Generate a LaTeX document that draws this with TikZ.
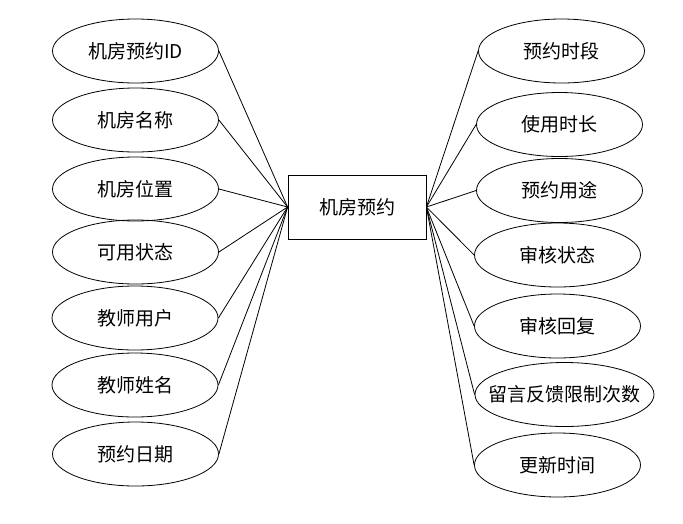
\documentclass[tikz,border=0pt]{standalone}
\usepackage{fontspec}
\setmainfont{Noto Sans CJK SC}
\usetikzlibrary{shapes.geometric}
\begin{document}
\begin{tikzpicture}[x=1pt,y=-1pt,
  attr/.style={draw, ellipse, line width=0.8pt, minimum width=166pt, minimum height=64pt, inner sep=0pt, font=\fontsize{19}{21}\selectfont},
  ent/.style={draw, rectangle, line width=0.8pt, minimum width=138pt, minimum height=64pt, inner sep=0pt, font=\fontsize{19}{21}\selectfont},
  link/.style={line width=0.8pt}]
\useasboundingbox (0,0) rectangle (683,523);
\node[ent] (c) at (357,207) {机房预约};
\node[attr] (l1) at (135.5,51) {机房预约ID};
\node[attr] (l2) at (135.5,120) {机房名称};
\node[attr] (l3) at (135.5,189) {机房位置};
\node[attr] (l4) at (135.5,252) {可用状态};
\node[attr] (l5) at (135,318) {教师用户};
\node[attr] (l6) at (135,385) {教师姓名};
\node[attr] (l7) at (135.5,454) {预约日期};
\node[attr] (r1) at (561.5,51) {预约时段};
\node[attr] (r2) at (559.5,124.5) {使用时长};
\node[attr] (r3) at (559.5,190.5) {预约用途};
\node[attr] (r4) at (557.5,255) {审核状态};
\node[attr] (r5) at (557.5,326) {审核回复};
\node[attr, minimum width=179pt] (r6) at (564.5,394.5) {\makebox[0pt]{留言反馈限制次数}};
\node[attr] (r7) at (557.5,465) {更新时间};
\foreach \n in {l1,l2,l3,l4,l5,l6,l7} \draw[link] (\n.east) -- (c.west);
\foreach \n in {r1,r2,r3,r4,r5,r6,r7} \draw[link] (c.east) -- (\n.west);
\end{tikzpicture}
\end{document}
